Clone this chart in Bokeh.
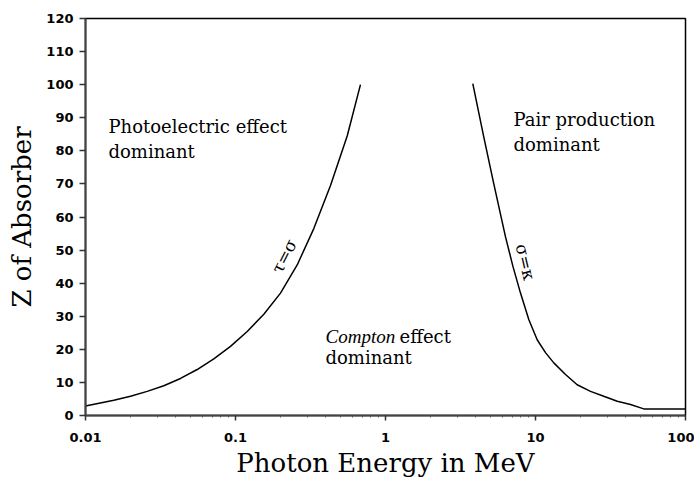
from bokeh.plotting import figure
from bokeh.models import FixedTicker, CustomJSTickFormatter
from bokeh.core.properties import value
from bokeh.embed import file_html
from bokeh.resources import INLINE

# --- data ---
# photoelectric / Compton boundary (sigma = tau)
pe_energy = [0.01, 0.01545, 0.01995, 0.02578, 0.03327, 0.04297, 0.05553, 0.07166,
             0.09261, 0.1197, 0.1545, 0.1995, 0.2578, 0.3326, 0.4299,
             0.5554, 0.681]
pe_z = [2.9, 4.6, 5.8, 7.3, 9.0, 11.2, 13.9, 17.1,
        20.9, 25.4, 30.6, 37.0, 45.5, 56.5, 69.5,
        84.5, 100.0]
# Compton / pair-production boundary (sigma = kappa)
pp_energy = [3.819, 4.519, 5.272, 6.310, 7.079, 7.943, 9.02, 10.26, 11.66, 13.24,
             15.85, 18.96, 23.27, 28.52, 35.06, 42.99, 52.72, 100.0]
pp_z = [100.3, 84.2, 70.0, 54.0, 45.0, 37.0, 29.0, 22.9, 19.0, 15.9,
        12.4, 9.3, 7.3, 5.8, 4.3, 3.3, 2.0, 2.0]

x_ticks = [0.01, 0.1, 1, 10, 100]
x_tick_labels = ["0.01", "0.1", "1", "10", "100"]
x_minor_ticks = [m * d for d in [0.01, 0.1, 1, 10] for m in range(2, 10)]
y_ticks = list(range(0, 121, 10))

region_x = [0.01423, 0.01423, 7.13, 7.13]
region_y = [87.3, 79.8, 89.4, 81.9]
region_text = ["Photoelectric effect", "dominant", "Pair production", "dominant"]

compton_x = [0.398]
compton_y = [23.9]
compton_word = ["Compton"]
compton_rest = ["effect"]
compton_line2_y = [17.5]
compton_line2 = ["dominant"]

curve_label_x = [0.211, 8.58]
curve_label_y = [48.2, 46.4]
curve_label_text = ["τ=σ", "σ=κ"]
curve_label_angle = [1.10, -1.34]

SERIF = "DejaVu Serif"

p = figure(width=694, height=480, x_axis_type="log",
           x_range=(0.01, 100), y_range=(0, 120),
           output_backend="svg", toolbar_location=None,
           min_border_left=85, min_border_right=9,
           min_border_top=18, min_border_bottom=64)

p.background_fill_color = "white"
p.border_fill_color = "white"
p.outline_line_color = "black"
p.outline_line_width = 1.5
p.xgrid.visible = False
p.ygrid.visible = False

# x axis
p.xaxis.ticker = FixedTicker(ticks=x_ticks, minor_ticks=x_minor_ticks)
p.xaxis.formatter = CustomJSTickFormatter(args=dict(tvals=x_ticks, tlabels=x_tick_labels), code="""
for (let i = 0; i < tvals.length; i++) {
  if (Math.abs(Math.log10(tick) - Math.log10(tvals[i])) < 1e-6) return tlabels[i];
}
return tick.toString();
""")
p.xaxis.axis_label = "Photon Energy in MeV"
p.xaxis.major_tick_out = 5
p.xaxis.major_tick_in = 0
p.xaxis.minor_tick_out = 2
p.xaxis.minor_tick_in = 0
p.xaxis.major_label_standoff = 12
p.xaxis.axis_label_standoff = 3

# y axis
p.yaxis.ticker = FixedTicker(ticks=y_ticks)
p.yaxis.axis_label = "Z of Absorber"
p.yaxis.major_tick_out = 6
p.yaxis.major_tick_in = 0
p.yaxis.minor_tick_out = 0
p.yaxis.minor_tick_in = 0
p.yaxis.major_label_standoff = 6
p.yaxis.axis_label_standoff = 6

for ax in (p.xaxis, p.yaxis):
    ax.axis_line_width = 2
    ax.axis_line_color = "#444444"
    ax.major_tick_line_color = "#333333"
    ax.minor_tick_line_color = "#555555"
    ax.major_tick_line_width = 1.5
    ax.major_label_text_font = "DejaVu Sans"
    ax.major_label_text_font_style = "bold"
    ax.major_label_text_font_size = "13px"
    ax.major_label_text_color = "black"
    ax.axis_label_text_font = SERIF
    ax.axis_label_text_font_style = "normal"
    ax.axis_label_text_font_size = "26px"
    ax.axis_label_text_color = "black"

# curves
p.line(pe_energy, pe_z, line_color="black", line_width=1.5)
p.line(pp_energy, pp_z, line_color="black", line_width=1.5)

# region texts
p.text(x=region_x, y=region_y, text=region_text, text_font=value(SERIF),
       text_font_size="18px", text_baseline="middle", text_align="left",
       text_color="black")
p.text(x=compton_x, y=compton_y, text=compton_word,
       text_font=value("Liberation Serif"), text_font_style="italic",
       text_font_size="19px", text_baseline="middle", text_align="left",
       text_color="black")
p.text(x=compton_x, y=compton_y, text=compton_rest, x_offset=74,
       text_font=value(SERIF), text_font_size="18px",
       text_baseline="middle", text_align="left", text_color="black")
p.text(x=compton_x, y=compton_line2_y, text=compton_line2,
       text_font=value(SERIF), text_font_size="18px",
       text_baseline="middle", text_align="left", text_color="black")

# boundary labels
p.text(x=curve_label_x, y=curve_label_y, text=curve_label_text,
       angle=curve_label_angle, text_font=value(SERIF),
       text_font_size="17px", text_baseline="middle", text_align="center",
       text_color="black")

open("out.html", "w").write(file_html(p, INLINE))
